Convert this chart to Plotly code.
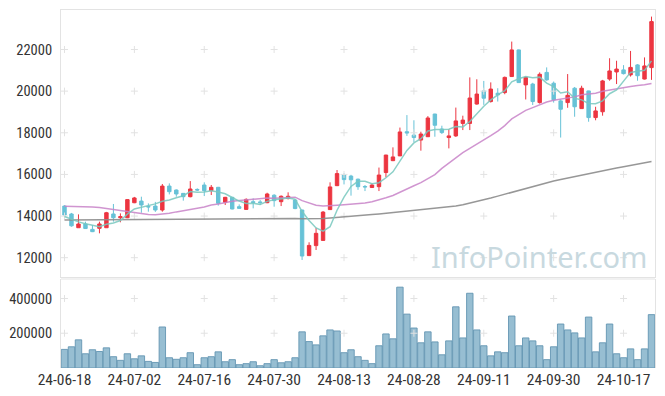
import plotly.graph_objects as go

dates = [
    "24-06-18", "24-06-19", "24-06-20", "24-06-21", "24-06-24", "24-06-25", "24-06-26", "24-06-27", "24-06-28",
    "24-07-01", "24-07-02", "24-07-03", "24-07-04", "24-07-05", "24-07-08", "24-07-09", "24-07-10", "24-07-11",
    "24-07-12", "24-07-15", "24-07-16", "24-07-17", "24-07-18", "24-07-19", "24-07-22", "24-07-23", "24-07-24",
    "24-07-25", "24-07-26", "24-07-29", "24-07-30", "24-07-31",
    "24-08-01", "24-08-02", "24-08-05", "24-08-06", "24-08-07", "24-08-08", "24-08-09", "24-08-12", "24-08-13",
    "24-08-14", "24-08-16", "24-08-19", "24-08-20", "24-08-21", "24-08-22", "24-08-23", "24-08-26", "24-08-27",
    "24-08-28", "24-08-29", "24-08-30",
    "24-09-02", "24-09-03", "24-09-04", "24-09-05", "24-09-06", "24-09-09", "24-09-10", "24-09-11", "24-09-12",
    "24-09-13", "24-09-19", "24-09-20", "24-09-23", "24-09-24", "24-09-25", "24-09-26", "24-09-27", "24-09-30",
    "24-10-02", "24-10-04", "24-10-07", "24-10-08", "24-10-10", "24-10-11", "24-10-14", "24-10-15", "24-10-16",
    "24-10-17", "24-10-18", "24-10-21", "24-10-22", "24-10-23",
]

opens = [14480, 14100, 13440, 13620, 13360, 13410, 13440, 14100, 13920, 13920,
         14640, 14720, 14460, 14480, 14290, 15440, 15250, 15090, 14930, 15280,
         15490, 15220, 15380, 14660, 14900, 14450, 14320, 14690, 14680, 14640,
         15000, 14690, 14840, 14770, 14290, 12100, 12580, 12830, 14310, 15460,
         15970, 15920, 15770, 15420, 15370, 15410, 16090, 16660, 16890, 18050,
         17890, 17650, 17810, 18900, 18180, 17770, 17850, 18450, 18450, 19380,
         20010, 19500, 19900, 19930, 20700, 21980, 20300, 20340, 19450, 20900,
         20380, 19530, 19450, 20140, 19160, 20010, 18730, 19010, 20580, 20920,
         21020, 20780, 21260, 20580, 21130]
highs = [14520, 14150, 14080, 13730, 13570, 13730, 14200, 14580, 14130, 14800,
         14920, 14930, 14610, 14680, 15540, 15570, 15280, 15100, 15680, 15330,
         15620, 15490, 15400, 14920, 14920, 14560, 14850, 14850, 14770, 15120,
         15050, 14990, 15140, 14800, 14300, 12740, 13430, 14240, 15620, 16210,
         16050, 15980, 15800, 15490, 15570, 16330, 16940, 17300, 18250, 18850,
         18600, 18050, 18800, 18910, 18340, 18170, 19210, 18820, 20660, 20570,
         20490, 20420, 20140, 20700, 22380, 22000, 20700, 20400, 20900, 21140,
         20460, 19600, 20820, 20200, 20260, 20020, 19250, 20540, 21580, 21460,
         21250, 21930, 21300, 21620, 23580]
lows = [14020, 13490, 13440, 13380, 13230, 13170, 13440, 13730, 13700, 13900,
        14620, 14160, 14210, 14200, 14210, 15040, 14930, 14740, 14900, 15200,
        14960, 15010, 14500, 14530, 14320, 14340, 14300, 14370, 14530, 14620,
        14450, 14480, 14800, 14330, 11890, 12080, 12370, 12830, 14300, 15440,
        15520, 14980, 15260, 15200, 15360, 15200, 15860, 16640, 16880, 17850,
        17550, 17140, 17800, 17810, 17940, 17250, 17800, 18130, 18130, 19350,
        19340, 19450, 19500, 19850, 20680, 20400, 19600, 19335, 19400, 20500,
        19450, 17770, 19200, 18770, 19150, 18530, 18600, 18820, 20500, 20340,
        20800, 20700, 20500, 20560, 20540]
closes = [14050, 13530, 13620, 13400, 13250, 13620, 14160, 13920, 13970, 14790,
          14870, 14530, 14440, 14290, 15440, 15170, 15060, 14930, 15300, 15250,
          15220, 15380, 14610, 14900, 14340, 14370, 14800, 14650, 14650, 15060,
          14740, 14950, 14950, 14360, 12080, 12590, 13170, 14190, 15400, 16040,
          15750, 15740, 15410, 15400, 15490, 15970, 16930, 16840, 18040, 17990,
          17770, 17940, 18710, 18360, 18010, 17850, 18570, 18610, 19670, 19860,
          19660, 20100, 19820, 20660, 21980, 20410, 20660, 19500, 20810, 20540,
          19580, 19130, 19800, 19250, 20140, 18730, 19050, 20490, 20970, 21060,
          20840, 21140, 20740, 21210, 23340]
volumes = [107000, 122000, 162000, 82000, 105000, 95000, 116000, 65000, 44000, 82000,
           53000, 70000, 38000, 32000, 236000, 59000, 50000, 59000, 88000, 19000,
           59000, 65000, 93000, 36000, 48000, 19000, 25000, 36000, 13000, 25000,
           48000, 30000, 36000, 59000, 208000, 152000, 133000, 185000, 219000, 213000,
           88000, 105000, 65000, 44000, 25000, 128000, 196000, 168000, 465000, 310000,
           230000, 145000, 208000, 150000, 76000, 156000, 352000, 173000, 430000, 219000,
           128000, 70000, 93000, 88000, 299000, 128000, 173000, 156000, 128000, 48000,
           122000, 253000, 219000, 202000, 173000, 293000, 93000, 145000, 253000, 82000,
           59000, 110000, 48000, 110000, 307000]
ma5 = [13980, 13850, 13720, 13630, 13570, 13484, 13610, 13670, 13784, 14092,
       14342, 14416, 14520, 14584, 14714, 14774, 14880, 14978, 15180, 15142,
       15152, 15216, 15152, 15072, 14890, 14720, 14604, 14612, 14562, 14706,
       14780, 14810, 14870, 14812, 14216, 13786, 13430, 13278, 13486, 14278,
       14910, 15424, 15668, 15668, 15558, 15602, 15840, 16126, 16654, 17154,
       17514, 17716, 18090, 18154, 18158, 18174, 18300, 18280, 18542, 18912,
       19274, 19580, 19822, 20020, 20444, 20594, 20706, 20642, 20672, 20384,
       20218, 19912, 19972, 19660, 19580, 19410, 19394, 19532, 19876, 20060,
       20482, 20900, 20950, 20998, 21454]
ma20 = [14470, 14470, 14465, 14455, 14440, 14410, 14370, 14320, 14270, 14220,
        14170, 14120, 14080, 14060, 14080, 14130, 14200, 14270, 14330, 14380,
        14438, 14531, 14580, 14655, 14710, 14747, 14779, 14816, 14850, 14863,
        14857, 14878, 14903, 14907, 14739, 14610, 14515, 14478, 14483, 14523,
        14549, 14567, 14607, 14632, 14690, 14770, 14876, 14986, 15155, 15302,
        15453, 15603, 15791, 15991, 16287, 16550, 16820, 17041, 17255, 17446,
        17641, 17859, 18080, 18343, 18667, 18889, 19076, 19209, 19347, 19475,
        19565, 19625, 19679, 19724, 19830, 19874, 19898, 19992, 20057, 20117,
        20176, 20228, 20274, 20302, 20370]
ma_long = [13815, 13818, 13821, 13825, 13826, 13830, 13833, 13834, 13838, 13840,
           13842, 13843, 13846, 13849, 13850, 13853, 13855, 13856, 13858, 13861,
           13862, 13864, 13865, 13867, 13869, 13870, 13872, 13874, 13876, 13877,
           13879, 13881, 13884, 13885, 13872, 13864, 13866, 13880, 13902, 13924,
           13951, 13979, 14008, 14041, 14069, 14104, 14138, 14176, 14212, 14243,
           14281, 14314, 14348, 14382, 14411, 14443, 14482, 14548, 14622, 14698,
           14781, 14868, 14958, 15052, 15141, 15236, 15328, 15424, 15518, 15601,
           15679, 15756, 15829, 15902, 15968, 16041, 16108, 16176, 16238, 16306,
           16368, 16431, 16492, 16553, 16620]

price_ticks = [12000, 14000, 16000, 18000, 20000, 22000]
volume_ticks = [200000, 400000]
tick_dates = dates[::10]

UP = "#ec3540"
DOWN = "#67c2d7"
GRID = "#e2e2e2"
BORDER = "#e3e3e3"
FONT = "Noto Sans"
NARROW = "Liberation Sans Narrow, Roboto Condensed, Noto Sans"
XTICKFONT = dict(family=NARROW, size=15.5, color="#333")
YTICKFONT = dict(family=NARROW, size=14.5, color="#333")

fig = go.Figure()

# grid crosses
fig.add_trace(go.Scatter(
    x=[d for d in tick_dates for _ in price_ticks],
    y=[v for _ in tick_dates for v in price_ticks],
    mode="markers", xaxis="x", yaxis="y", hoverinfo="skip", showlegend=False,
    marker=dict(symbol="cross-thin", size=5, line=dict(color=GRID, width=1))))
fig.add_trace(go.Scatter(
    x=[d for d in tick_dates for _ in volume_ticks],
    y=[v for _ in tick_dates for v in volume_ticks],
    mode="markers", xaxis="x2", yaxis="y2", hoverinfo="skip", showlegend=False,
    marker=dict(symbol="cross-thin", size=5, line=dict(color=GRID, width=1))))

fig.add_trace(go.Candlestick(
    x=dates, open=opens, high=highs, low=lows, close=closes,
    increasing=dict(line=dict(color=UP, width=1), fillcolor=UP),
    decreasing=dict(line=dict(color=DOWN, width=1), fillcolor=DOWN),
    whiskerwidth=0, xaxis="x", yaxis="y", showlegend=False))

fig.add_trace(go.Scatter(x=dates, y=ma_long, mode="lines", xaxis="x", yaxis="y",
                         line=dict(color="rgba(140,140,140,0.9)", width=1.5), showlegend=False))
fig.add_trace(go.Scatter(x=dates, y=ma20, mode="lines", xaxis="x", yaxis="y",
                         line=dict(color="rgba(200,130,200,0.85)", width=1.5), showlegend=False))
fig.add_trace(go.Scatter(x=dates, y=ma5, mode="lines", xaxis="x", yaxis="y",
                         line=dict(color="rgba(120,200,190,0.85)", width=1.5), showlegend=False))

fig.add_trace(go.Bar(
    x=dates, y=volumes, xaxis="x2", yaxis="y2", showlegend=False,
    marker=dict(color="rgba(128,176,200,0.82)", line=dict(color="rgba(100,150,178,0.9)", width=1))))

fig.update_layout(
    width=665, height=396,
    margin=dict(l=53, r=18, t=2, b=36, autoexpand=False),
    paper_bgcolor="white", plot_bgcolor="white",
    font=dict(family=FONT, size=14, color="#333"),
    bargap=0.08,
    xaxis=dict(type="category", categoryorder="array", categoryarray=dates,
               range=[-0.5, len(dates) - 0.5], anchor="y", showticklabels=False,
               showgrid=False, zeroline=False, showline=True, mirror=True,
               linecolor=BORDER, linewidth=1, rangeslider=dict(visible=False),
               tickvals=tick_dates, ticks="", automargin=False),
    yaxis=dict(domain=[0.2542, 1], range=[11073, 23897], tickvals=price_ticks,
               tickformat="d", showgrid=False, zeroline=False, showline=True, mirror=True,
               linecolor=BORDER, linewidth=1, ticks="", ticklabelstandoff=5, automargin=False,
               tickfont=YTICKFONT),
    xaxis2=dict(type="category", categoryorder="array", categoryarray=dates,
                range=[-0.5, len(dates) - 0.5], anchor="y2", matches="x",
                tickvals=tick_dates, ticktext=tick_dates, showgrid=False, zeroline=False,
                showline=False, ticks="", automargin=False, tickfont=XTICKFONT),
    yaxis2=dict(domain=[0, 0.2486], range=[0, 512000], tickvals=volume_ticks,
                tickformat="d", showgrid=False, zeroline=False, showline=True, mirror=True,
                linecolor=BORDER, linewidth=1, ticks="", ticklabelstandoff=5, automargin=False,
                tickfont=YTICKFONT),
    shapes=[dict(type="line", xref="paper", yref="y2 domain", x0=0, x1=1, y0=1, y1=1,
                 line=dict(color=BORDER, width=1))],
    annotations=[dict(text="InfoPointer.com", xref="paper", yref="paper",
                      x=0.805, y=0.3128, xanchor="center", yanchor="middle",
                      showarrow=False, font=dict(family=FONT, size=29, color="#c8d9df"))],
)

fig.write_html("out.html")
